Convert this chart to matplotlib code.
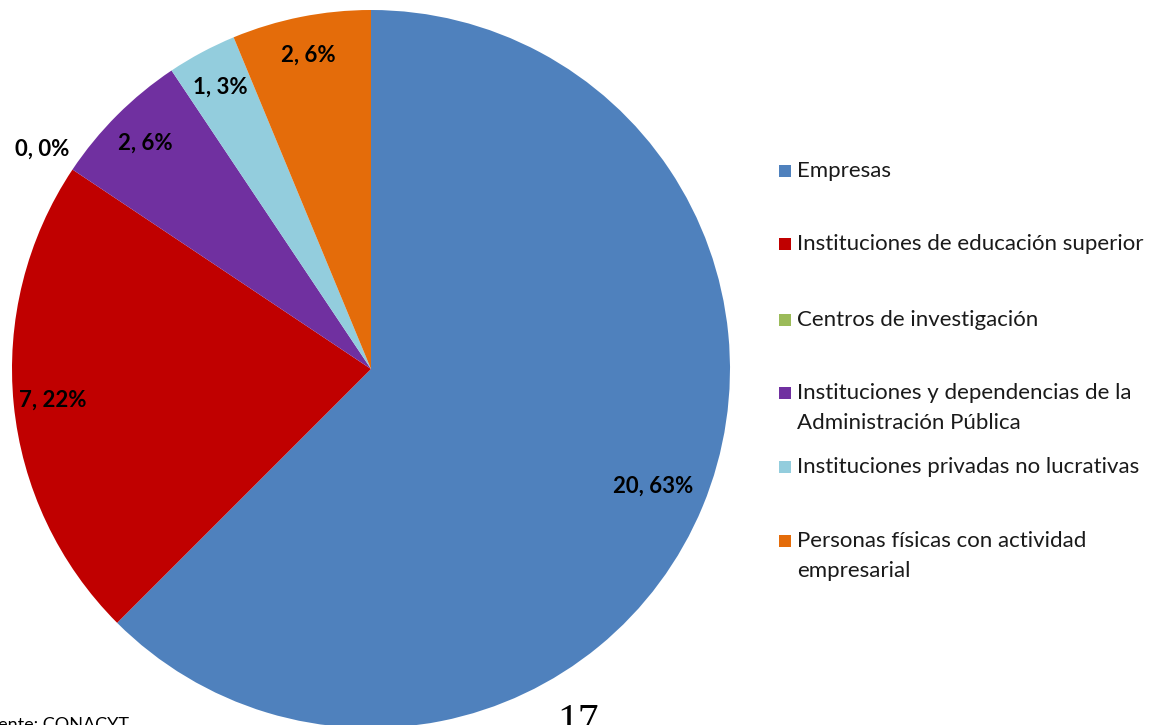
import matplotlib
matplotlib.use("Agg")
import matplotlib.pyplot as plt
import numpy as np
from matplotlib.patches import Rectangle

categories = [
    "Empresas",
    "Instituciones de educación superior",
    "Centros de investigación",
    "Instituciones y dependencias de la\nAdministración Pública",
    "Instituciones privadas no lucrativas",
    "Personas físicas con actividad\nempresarial",
]
counts = [20, 7, 0, 2, 1, 2]
percents = [63, 22, 0, 6, 3, 6]
colors = ["#4F81BD", "#C00000", "#9BBB59", "#7030A0", "#93CDDD", "#E46C0A"]

W, H = 1154, 725
fig = plt.figure(figsize=(W / 100, H / 100), dpi=100)
fig.patch.set_facecolor("white")

# pie axes: centre (371, 369) px from top, radius 359 px
cx, cy, r = 371, 369, 359
ax = fig.add_axes([(cx - r) / W, (H - cy - r) / H, 2 * r / W, 2 * r / H])
wedges, _ = ax.pie(counts, colors=colors, startangle=90, counterclock=False,
                   radius=1, wedgeprops=dict(linewidth=0))
ax.set_xlim(-1, 1)
ax.set_ylim(-1, 1)
ax.set_aspect("equal")
ax.axis("off")

# data labels
for w, n, p in zip(wedges, counts, percents):
    mid = np.deg2rad((w.theta1 + w.theta2) / 2)
    if n == 0:
        d = 1.10
    elif p > 50:
        d = 0.85
    else:
        d = 0.89
    ax.text(d * np.cos(mid), d * np.sin(mid), f"{n}, {p}%", ha="center", va="center",
            fontsize=16, fontweight="bold", family="Lato", color="black")

# legend, drawn by hand to keep the even line pitch
first_line_y = [171, 244, 320, 393, 467, 541]
line_gap = 30
for lab, col, y in zip(categories, colors, first_line_y):
    fig.patches.append(Rectangle((779 / W, (H - y - 6) / H), 12 / W, 12 / H,
                                 transform=fig.transFigure, facecolor=col, edgecolor="none"))
    for i, line in enumerate(lab.split("\n")):
        fig.text(797 / W, (H - y - i * line_gap) / H, line, ha="left", va="center",
                 fontsize=16, family="Lato", color="#1a1a1a")

# source note (cut off at the left edge) and page number
fig.text(-22 / W, -5 / H, "Fuente: CONACYT", ha="left", va="baseline", fontsize=13,
         family="Lato", color="black")
fig.text(578 / W, -8 / H, "17", ha="center", va="baseline", fontsize=30,
         family="Liberation Serif", color="black")

fig.savefig("out.png", dpi=100)
